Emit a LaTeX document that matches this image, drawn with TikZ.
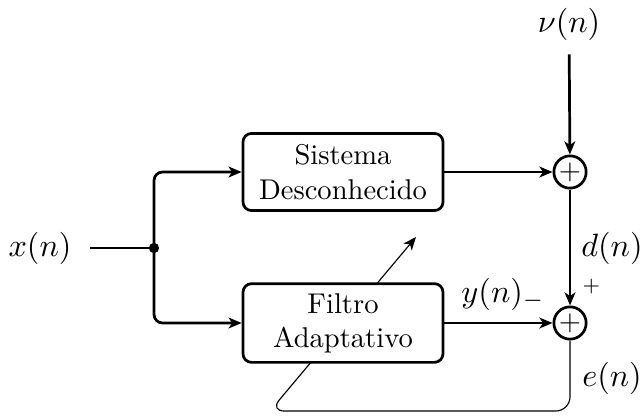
\documentclass[tikz,border=0pt]{standalone}
\usepackage{fix-cm}
\usetikzlibrary{arrows.meta,backgrounds}
\begin{document}
\begin{tikzpicture}[x=0.35pt,y=-0.35pt,
  line width=0.95pt,
  blk/.style={draw,rounded corners=3pt,fill=white,align=center,minimum width=70pt,minimum height=27pt},
  sumnode/.style={draw,circle,fill=white,inner sep=0pt,minimum size=11.3pt},
  arr/.style={-{Stealth[length=4.6pt,width=3.8pt,inset=1.3pt]}},
  rc/.style={rounded corners=3pt},
  lbl/.style={inner sep=0pt,font=\fontsize{11.3}{14}\selectfont}]
\useasboundingbox (0,0) rectangle (643,416);
\node[lbl] (x) at (40,248) {$x(n)$};
\coordinate (j) at (154,248);
\node[blk] (sys) at (343,172) {Sistema\\Desconhecido};
\node[blk] (fil) at (343,323) {Filtro\\Adaptativo};
\node[sumnode] (s1) at (570,172) {$+$};
\node[sumnode] (s2) at (570,323) {$+$};
\node[lbl] (nu) at (569,24) {$\nu(n)$};
\node[lbl] (d) at (612,248) {$d(n)$};
\node[lbl] (e) at (612,378) {$e(n)$};
\node[lbl] (y) at (503,294) {$y(n)_-$};
\node[inner sep=0pt] (pl) at (592,290) {$^+$};
\coordinate (fbB) at (270,411);
\coordinate (fbT) at (416,237);

\draw[shorten <=6pt] (x.east |- j) -- (j);
\fill (j) circle (1.8pt);
\draw[arr,rc] (j) |- (sys.west);
\draw[arr,rc] (j) |- (fil.west);
\draw[arr,shorten <=4.5pt] (nu) -- (s1);
\draw[arr] (sys) -- (s1);
\draw[arr] (s1) -- (s2);
\draw[arr] (fil) -- (s2);
\begin{scope}[on background layer]
\draw[arr,rounded corners=5pt] (s2.south) |- (fbB) -- (fbT);
\end{scope}
\end{tikzpicture}
\end{document}
